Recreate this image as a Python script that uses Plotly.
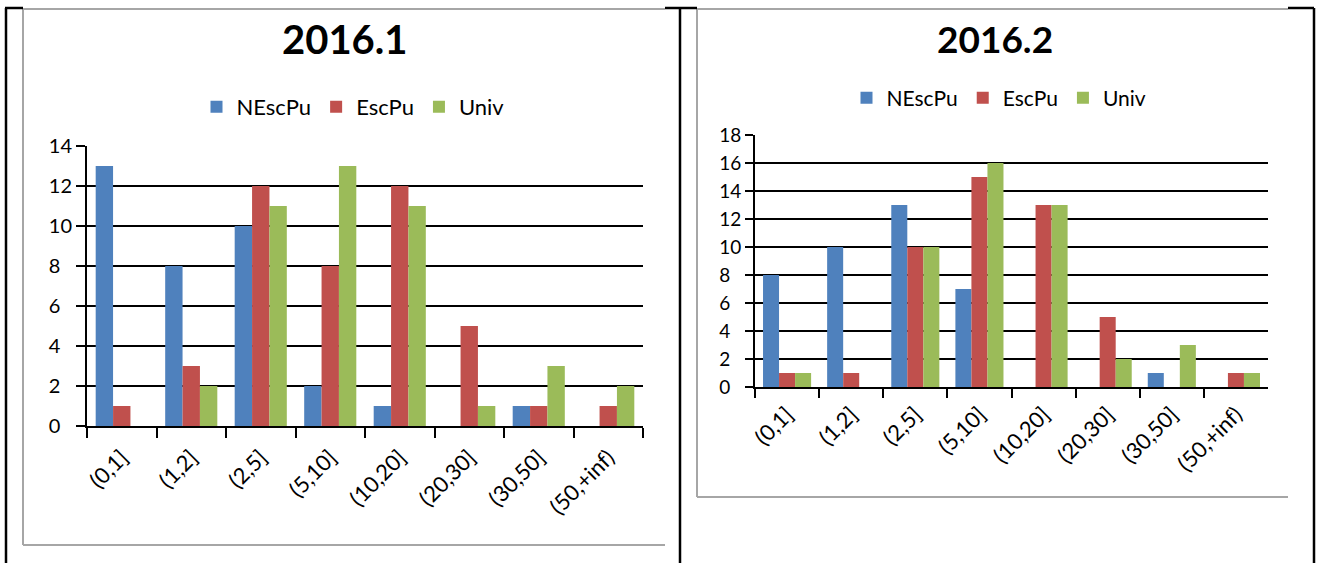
import plotly.graph_objects as go

W, H = 1320, 563

categories = ["(0,1]", "(1,2]", "(2,5]", "(5,10]", "(10,20]", "(20,30]", "(30,50]", "(50,+inf)"]
series_names = ["NEscPu", "EscPu", "Univ"]
colors = ["#4F81BD", "#C0504D", "#9BBB59"]

# 2016.1
nescpu_1 = [13, 8, 10, 2, 1, 0, 1, 0]
escpu_1 = [1, 3, 12, 8, 12, 5, 1, 1]
univ_1 = [0, 2, 11, 13, 11, 1, 3, 2]

# 2016.2
nescpu_2 = [8, 10, 13, 7, 0, 0, 1, 0]
escpu_2 = [1, 1, 10, 15, 13, 5, 0, 1]
univ_2 = [1, 0, 10, 16, 13, 2, 3, 1]

yticks_1 = [0, 2, 4, 6, 8, 10, 12, 14]
yticks_2 = [0, 2, 4, 6, 8, 10, 12, 14, 16, 18]


def px(x):
    return x / W


def py(y):
    return 1 - y / H


def ylabels(vals):
    # excel puts the single digit labels flush left with the two digit ones
    return [str(v) if v >= 10 else str(v) + "\u2007" for v in vals]


fig = go.Figure()

for name, color, vals in zip(series_names, colors, [nescpu_1, escpu_1, univ_1]):
    fig.add_trace(go.Bar(x=categories, y=vals, name=name, marker=dict(color=color, line=dict(width=0)),
                         xaxis="x", yaxis="y", legend="legend"))
for name, color, vals in zip(series_names, colors, [nescpu_2, escpu_2, univ_2]):
    fig.add_trace(go.Bar(x=categories, y=vals, name=name, marker=dict(color=color, line=dict(width=0)),
                         xaxis="x2", yaxis="y2", legend="legend2"))

font = "Lato, Calibri, sans-serif"

xax = dict(type="category", showline=True, linecolor="black", linewidth=2, ticks="outside",
           tickson="boundaries", tickcolor="black", tickwidth=2, tickangle=-45, showgrid=False,
           fixedrange=True, automargin=False)
yax = dict(showline=True, linecolor="black", linewidth=2, ticks="outside", tickcolor="black",
           tickwidth=2, showgrid=True, gridcolor="black", gridwidth=2, zeroline=False, fixedrange=True,
           automargin=False)

fig.update_layout(
    template="none",
    width=W, height=H, autosize=False,
    margin=dict(l=0, r=0, t=0, b=0, pad=0, autoexpand=False),
    paper_bgcolor="white", plot_bgcolor="white",
    barmode="group", bargap=0.25, bargroupgap=0,
    xaxis=dict(xax, domain=[px(87), px(643)], anchor="y", ticklen=10, ticklabelstandoff=8,
               tickfont=dict(family=font, size=22, color="black")),
    yaxis=dict(yax, domain=[py(426), py(146)], anchor="x", range=[0, 14], ticklen=9,
               tickvals=yticks_1, ticktext=ylabels(yticks_1),
               tickfont=dict(family=font, size=20, color="black")),
    xaxis2=dict(xax, domain=[px(755), px(1268)], anchor="y2", ticklen=9, ticklabelstandoff=4,
                tickfont=dict(family=font, size=22, color="black")),
    yaxis2=dict(yax, domain=[py(387), py(135)], anchor="x2", range=[0, 18], ticklen=8,
                tickvals=yticks_2, ticktext=ylabels(yticks_2),
                tickfont=dict(family=font, size=19, color="black")),
    legend=dict(orientation="h", x=px(353), y=py(107), xanchor="center", yanchor="middle",
                font=dict(family=font, size=22, color="black"), bgcolor="rgba(0,0,0,0)"),
    legend2=dict(orientation="h", x=px(999), y=py(98), xanchor="center", yanchor="middle",
                 font=dict(family=font, size=21, color="black"), bgcolor="rgba(0,0,0,0)"),
    annotations=[
        dict(text="<b>2016.1</b>", x=px(345), y=py(39), xref="paper", yref="paper",
             xanchor="center", yanchor="middle",
             showarrow=False, font=dict(family=font, size=40, color="black")),
        dict(text="<b>2016.2</b>", x=px(995), y=py(39), xref="paper", yref="paper",
             xanchor="center", yanchor="middle",
             showarrow=False, font=dict(family=font, size=37, color="black")),
    ],
)

# gray chart frames (cropped on the right) and the black table borders
frame = dict(color="#A6A6A6", width=2)
border = dict(color="black", width=2.5)
lines = [
    (23, 9, 665, 9, frame), (23, 9, 23, 545, frame), (23, 545, 665, 545, frame),
    (697, 9, 1288, 9, frame), (697, 9, 697, 497, frame), (697, 497, 1288, 497, frame),
    (665, 8, 697, 8, border), (1288, 8, 1314, 8, border), (5, 8, 23, 8, border),
    (6, 8, 6, 563, border), (680, 8, 680, 563, border), (1314, 8, 1314, 563, border),
]
for x0, y0, x1, y1, ln in lines:
    fig.add_shape(type="line", xref="paper", yref="paper", x0=px(x0), y0=py(y0), x1=px(x1), y1=py(y1),
                  line=ln)

fig.write_html("out.html", config={"displayModeBar": False},
               post_script="document.body.style.margin='0';")
